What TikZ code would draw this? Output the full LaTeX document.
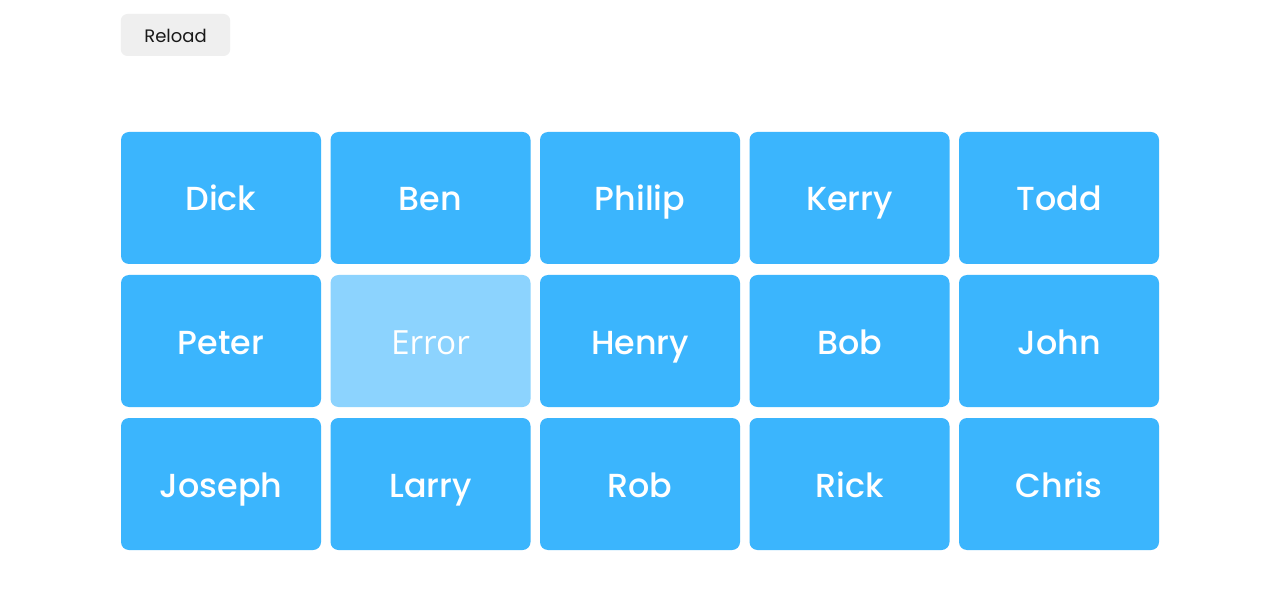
\documentclass[tikz,border=0pt]{standalone}
\usepackage{fontspec}
\setmainfont{Poppins}[UprightFont=* Medium]
\newfontfamily\errfont{Open Sans}
\newfontfamily\btnfont{Poppins}
\definecolor{cellblue}{RGB}{59,181,253}
\definecolor{errblue}{RGB}{140,211,254}
\definecolor{btngray}{RGB}{239,239,239}
\definecolor{btntext}{RGB}{25,25,25}
\begin{document}
\begin{tikzpicture}[x=0.75pt,y=-0.75pt,
  cell/.style={fill=cellblue,draw=none,rounded corners=6pt,minimum width=150pt,minimum height=99pt,inner sep=0pt,text height=19.5pt,text depth=0pt,text=white,font=\fontsize{25}{30}\selectfont},
  errcell/.style={cell,fill=errblue,font=\errfont\fontsize{25}{30}\selectfont},
  btn/.style={fill=btngray,draw=none,rounded corners=5pt,minimum width=82pt,minimum height=31.5pt,inner sep=0pt,text height=12pt,text depth=0pt,text=btntext,font=\btnfont\fontsize{13.5}{16}\selectfont}]
\useasboundingbox[fill=white] (0,0) rectangle (1280,609);
\node[btn] (reload) at (175.5,35) {Reload};
\node[cell] (c11) at (221,198) {Dick};
\node[cell] (c12) at (430.5,198) {Ben};
\node[cell] (c13) at (640,198) {Philip};
\node[cell] (c14) at (849.5,198) {Kerry};
\node[cell] (c15) at (1059,198) {Todd};
\node[cell] (c21) at (221,341) {Peter};
\node[errcell] (c22) at (430.5,341) {Error};
\node[cell] (c23) at (640,341) {Henry};
\node[cell] (c24) at (849.5,341) {Bob};
\node[cell] (c25) at (1059,341) {John};
\node[cell] (c31) at (221,484) {Joseph};
\node[cell] (c32) at (430.5,484) {Larry};
\node[cell] (c33) at (640,484) {Rob};
\node[cell] (c34) at (849.5,484) {Rick};
\node[cell] (c35) at (1059,484) {Chris};
\end{tikzpicture}
\end{document}
